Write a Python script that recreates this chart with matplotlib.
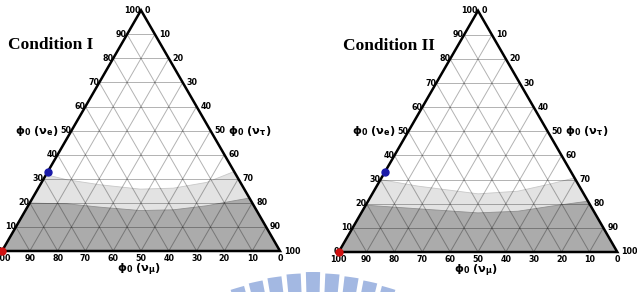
import numpy as np
import matplotlib
matplotlib.use("Agg")
import matplotlib.pyplot as plt
from matplotlib.patches import Polygon, Wedge

plt.rcParams["mathtext.fontset"] = "dejavusans"
plt.rcParams["mathtext.default"] = "bf"

# ---------------- data (ternary percentages) ----------------
tick_values = [0, 10, 20, 30, 40, 50, 60, 70, 80, 90, 100]
titles = ["Condition I", "Condition II"]

# upper boundary of light-grey region: (nu_tau, nu_e) pairs, left edge -> right edge
light_tau_I = [0, 8.5, 21.6, 36.9, 48.6, 59.4, 67.0]
light_e_I = [31.7, 29.6, 27.5, 25.7, 26.1, 28.5, 33.0]
dark_tau_I = [0, 13.6, 26.2, 41.3, 53.1, 64.3, 72.8, 78.0]
dark_e_I = [19.9, 19.6, 18.2, 16.8, 17.1, 18.8, 20.8, 22.0]

light_tau_II = [0, 14.8, 38.0, 51.7, 62.2, 69.3]
light_e_II = [30.0, 27.3, 24.1, 25.2, 28.3, 30.7]
dark_tau_II = [0, 19.6, 41.9, 55.9, 66.8, 78.95]
dark_e_II = [19.4, 17.9, 16.2, 16.9, 19.0, 21.05]

blue_point = (33.0, 0.0)   # (nu_e, nu_tau)
red_point = (0.0, 0.0)

panels = [
    dict(title=titles[0], light=(light_tau_I, light_e_I), dark=(dark_tau_I, dark_e_I)),
    dict(title=titles[1], light=(light_tau_II, light_e_II), dark=(dark_tau_II, dark_e_II)),
]

S3 = np.sqrt(3) / 2


def tern(e, tau):
    e = np.asarray(e, float)
    tau = np.asarray(tau, float)
    return tau / 100 + e / 200, e / 100 * S3


W, H = 637, 292
fig = plt.figure(figsize=(W / 100, H / 100), dpi=100)

# ---------------- watermark (background decoration) ----------------
wax = fig.add_axes([0, 0, 1, 1])
wax.set_xlim(0, W)
wax.set_ylim(H, 0)
wax.axis("off")
wm_center = (313, 545)
wm_angles = np.arange(-4, 5) * 4.1
for a in wm_angles:
    ang = 270 + a
    wax.add_patch(Wedge(wm_center, 273 - 0.5 * abs(a) * 0.6, ang - 1.5, ang + 1.5,
                        width=60, facecolor="#a3b8e2", edgecolor="none"))

# ---------------- ternary panels ----------------
tri_px = [(2, 251, 278), (338.7, 252, 278.6)]   # bottom-left x, bottom y, side length
title_px = [(8, 45), (343, 46)]

for p, (bx, by, side), (tx, ty) in zip(panels, tri_px, title_px):
    h = side * S3
    ax = fig.add_axes([bx / W, (H - by) / H, side / W, h / H])
    ax.set_xlim(0, 1)
    ax.set_ylim(0, S3)
    ax.axis("off")

    # light region (below upper boundary)
    lt, le = p["light"]
    xs, ys = tern(le, lt)
    x0, y0 = tern(0, 0)
    x1, y1 = tern(0, 100)
    poly = np.vstack([[x0, y0], np.column_stack([xs, ys]), [x1, y1]])
    ax.add_patch(Polygon(poly, closed=True, facecolor="#e3e3e3", edgecolor="#c8c8c8",
                         lw=0.6, zorder=1, clip_on=False))
    dt, de = p["dark"]
    xs, ys = tern(de, dt)
    poly = np.vstack([[x0, y0], np.column_stack([xs, ys]), [x1, y1]])
    ax.add_patch(Polygon(poly, closed=True, facecolor="#ababab", edgecolor="#909090",
                         lw=0.6, zorder=2, clip_on=False))

    # grid lines
    for v in tick_values[1:-1]:
        a = tern([v, v], [0, 100 - v])
        ax.plot(a[0], a[1], color="black", alpha=0.3, lw=0.7, zorder=3, clip_on=False)
        a = tern([0, 100 - v], [v, v])
        ax.plot(a[0], a[1], color="black", alpha=0.3, lw=0.7, zorder=3, clip_on=False)
        a = tern([0, 100 - v], [100 - v, 0])
        ax.plot(a[0], a[1], color="black", alpha=0.3, lw=0.7, zorder=3, clip_on=False)

    # triangle edges
    a = tern([0, 100, 0, 0], [0, 0, 100, 0])
    ax.plot(a[0], a[1], color="black", lw=1.8, zorder=4, clip_on=False,
            solid_joinstyle="miter")

    # tick labels
    fs = 5.8
    for v in tick_values:
        xy = tern(v, 0)
        ax.annotate(str(v), xy, xytext=(0, 0), textcoords="offset pixels",
                    ha="right", va="center", fontsize=fs, fontweight="bold",
                    annotation_clip=False, zorder=6)
        xy = tern(100 - v, v)
        ax.annotate(str(v), xy, xytext=(4, 0), textcoords="offset pixels",
                    ha="left", va="center", fontsize=fs, fontweight="bold",
                    annotation_clip=False, zorder=6)
        xy = tern(0, 100 - v)
        ax.annotate(str(v), xy, xytext=(0, -3), textcoords="offset pixels",
                    ha="center", va="top", fontsize=fs, fontweight="bold",
                    annotation_clip=False, zorder=6)

    # axis titles
    tfs = 8.2
    ax.annotate(r"$\phi_0\ (\nu_e)$", tern(50, 0), xytext=(-13, 0), textcoords="offset pixels",
                ha="right", va="center", fontsize=tfs, annotation_clip=False)
    ax.annotate(r"$\phi_0\ (\nu_\tau)$", tern(50, 50), xytext=(17, 0), textcoords="offset pixels",
                ha="left", va="center", fontsize=tfs, annotation_clip=False)
    ax.annotate(r"$\phi_0\ (\nu_\mu)$", tern(0, 50), xytext=(-2, -19), textcoords="offset pixels",
                ha="center", va="center", fontsize=tfs, annotation_clip=False)

    # points
    bx_, by_ = tern(*blue_point)
    ax.plot([bx_], [by_], "o", color="#1a1aa8", ms=5, zorder=7, clip_on=False)
    rx_, ry_ = tern(*red_point)
    ax.plot([rx_], [ry_], "o", color="#d01010", ms=5, zorder=7, clip_on=False)

    fig.text(tx / W, 1 - ty / H, p["title"], family="Liberation Serif", fontweight="bold",
             fontsize=12.5, ha="left", va="center")

fig.savefig("out.png", dpi=100)
